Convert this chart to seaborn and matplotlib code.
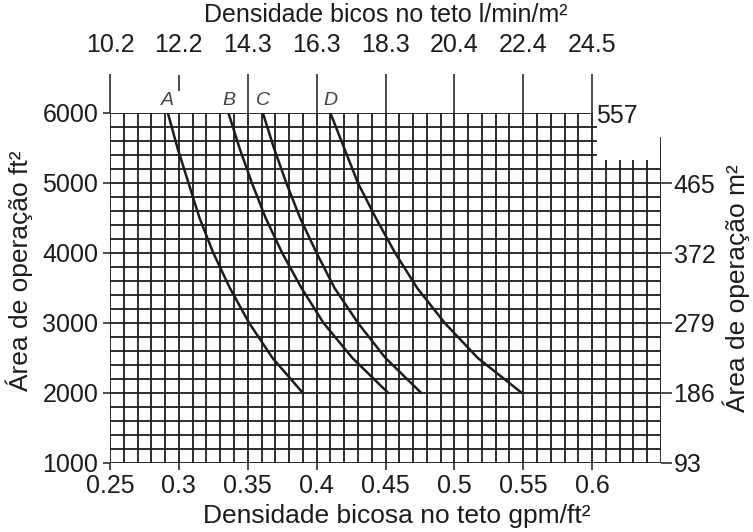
import numpy as np
import pandas as pd
import matplotlib
matplotlib.use("Agg")
import matplotlib.pyplot as plt
import seaborn as sns

# ---- data ----
area_ft2 = [2000, 2500, 3000, 3500, 4000, 4500, 5000, 5500, 6000]
curve_A = [0.390, 0.368, 0.351, 0.337, 0.325, 0.315, 0.307, 0.299, 0.292]
curve_B = [0.452, 0.426, 0.405, 0.389, 0.375, 0.363, 0.353, 0.344, 0.336]
curve_C = [0.476, 0.450, 0.430, 0.413, 0.400, 0.388, 0.378, 0.369, 0.361]
curve_D = [0.549, 0.517, 0.493, 0.473, 0.457, 0.443, 0.430, 0.420, 0.410]
curve_names = ["A", "B", "C", "D"]

bottom_ticks = [0.25, 0.30, 0.35, 0.40, 0.45, 0.50, 0.55, 0.60]
bottom_labels = ["0.25", "0.3", "0.35", "0.4", "0.45", "0.5", "0.55", "0.6"]
top_labels = ["10.2", "12.2", "14.3", "16.3", "18.3", "20.4", "22.4", "24.5"]
left_ticks = [1000, 2000, 3000, 4000, 5000, 6000]
left_labels = ["1000", "2000", "3000", "4000", "5000", "6000"]
right_ticks = [1000, 2000, 3000, 4000, 5000]
right_labels = ["93", "186", "279", "372", "465"]
right_top_tick = [6000]
right_top_label = ["557"]

df = pd.DataFrame({
    "area": area_ft2 * 4,
    "density": curve_A + curve_B + curve_C + curve_D,
    "curve": sum([[n] * len(area_ft2) for n in curve_names], []),
})

sns.set_style("white")
plt.rcParams["font.family"] = ["Liberation Sans", "DejaVu Sans"]
FS = 18
INK = "#1c1c1c"

fig = plt.figure(figsize=(7.53, 5.32), dpi=100)
ax = fig.add_axes([110 / 753, 1 - 463 / 532, 551 / 753, 350 / 532])
ax.set_xlim(0.25, 0.65)
ax.set_ylim(1000, 6000)
for s in ax.spines.values():
    s.set_visible(False)

lw_grid = 1.3
# grid (drawn as a chart frame)
xs_full = np.round(np.arange(0.25, 0.6001, 0.01), 2)
ax.vlines(xs_full, 1000, 6000, color=INK, lw=lw_grid, zorder=1)
ax.vlines([0.61, 0.62, 0.63, 0.64], 1000, 5330, color=INK, lw=lw_grid, zorder=1)
ax.vlines([0.65], 1000, 5650, color=INK, lw=lw_grid, zorder=1)
ys_low = np.arange(1000, 5201, 200)
ax.hlines(ys_low, 0.25, 0.65, color=INK, lw=lw_grid, zorder=1)
ax.hlines([5400, 5600, 5800], 0.25, 0.6035, color=INK, lw=lw_grid, zorder=1)
ax.hlines([6000], 0.25, 0.60, color=INK, lw=lw_grid, zorder=1)
# top long tick lines and short 12.2 tick
long_top = [t for t in bottom_ticks if abs(t - 0.30) > 1e-9]
ax.vlines(long_top, 6000, 6560, color=INK, lw=1.1, clip_on=False, zorder=1)
ax.vlines([0.30], 6310, 6540, color=INK, lw=1.1, clip_on=False, zorder=1)

sns.lineplot(data=df, x="density", y="area", hue="curve",
             palette=[INK] * 4, sort=False, estimator=None,
             lw=1.8, legend=False, ax=ax, zorder=3)

for name, vals in zip(curve_names, [curve_A, curve_B, curve_C, curve_D]):
    ax.text(vals[-1], 6060, name, ha="center", va="bottom", fontsize=14,
            style="italic", color="#444444")

ax.set_xticks(bottom_ticks, labels=bottom_labels)
ax.set_yticks(left_ticks, labels=left_labels)
ax.tick_params(axis="both", labelsize=FS, colors=INK, length=5, width=1.1,
               direction="out", bottom=True, left=True)
ax.tick_params(axis="x", pad=3)
ax.set_xlabel("Densidade bicosa no teto gpm/ft²", fontsize=19, color=INK)
ax.xaxis.set_label_coords(0.52, -0.118)
ax.set_ylabel("Área de operação ft²", fontsize=19, color=INK)
ax.yaxis.set_label_coords(-0.14, 0.55)

top = ax.secondary_xaxis("top")
top.set_xticks(bottom_ticks, labels=top_labels)
top.tick_params(length=0, pad=40, labelsize=FS, colors=INK)
top.spines["top"].set_visible(False)
top.set_xlabel("Densidade bicos no teto l/min/m²", fontsize=18, color=INK, labelpad=8)

right = ax.secondary_yaxis("right")
right.set_yticks(right_ticks, labels=right_labels)
right.tick_params(length=8, width=1.1, pad=1, labelsize=FS, colors=INK)
right.spines["right"].set_visible(False)
right.set_ylabel("Área de operação m²", fontsize=19, color=INK, labelpad=5)

right2 = ax.secondary_yaxis((0.60 - 0.25) / 0.40)
right2.set_yticks(right_top_tick, labels=right_top_label)
right2.tick_params(length=0, pad=3, labelsize=FS, colors=INK)
right2.spines["right"].set_visible(False)

fig.savefig("out.png", dpi=100, facecolor="white")
